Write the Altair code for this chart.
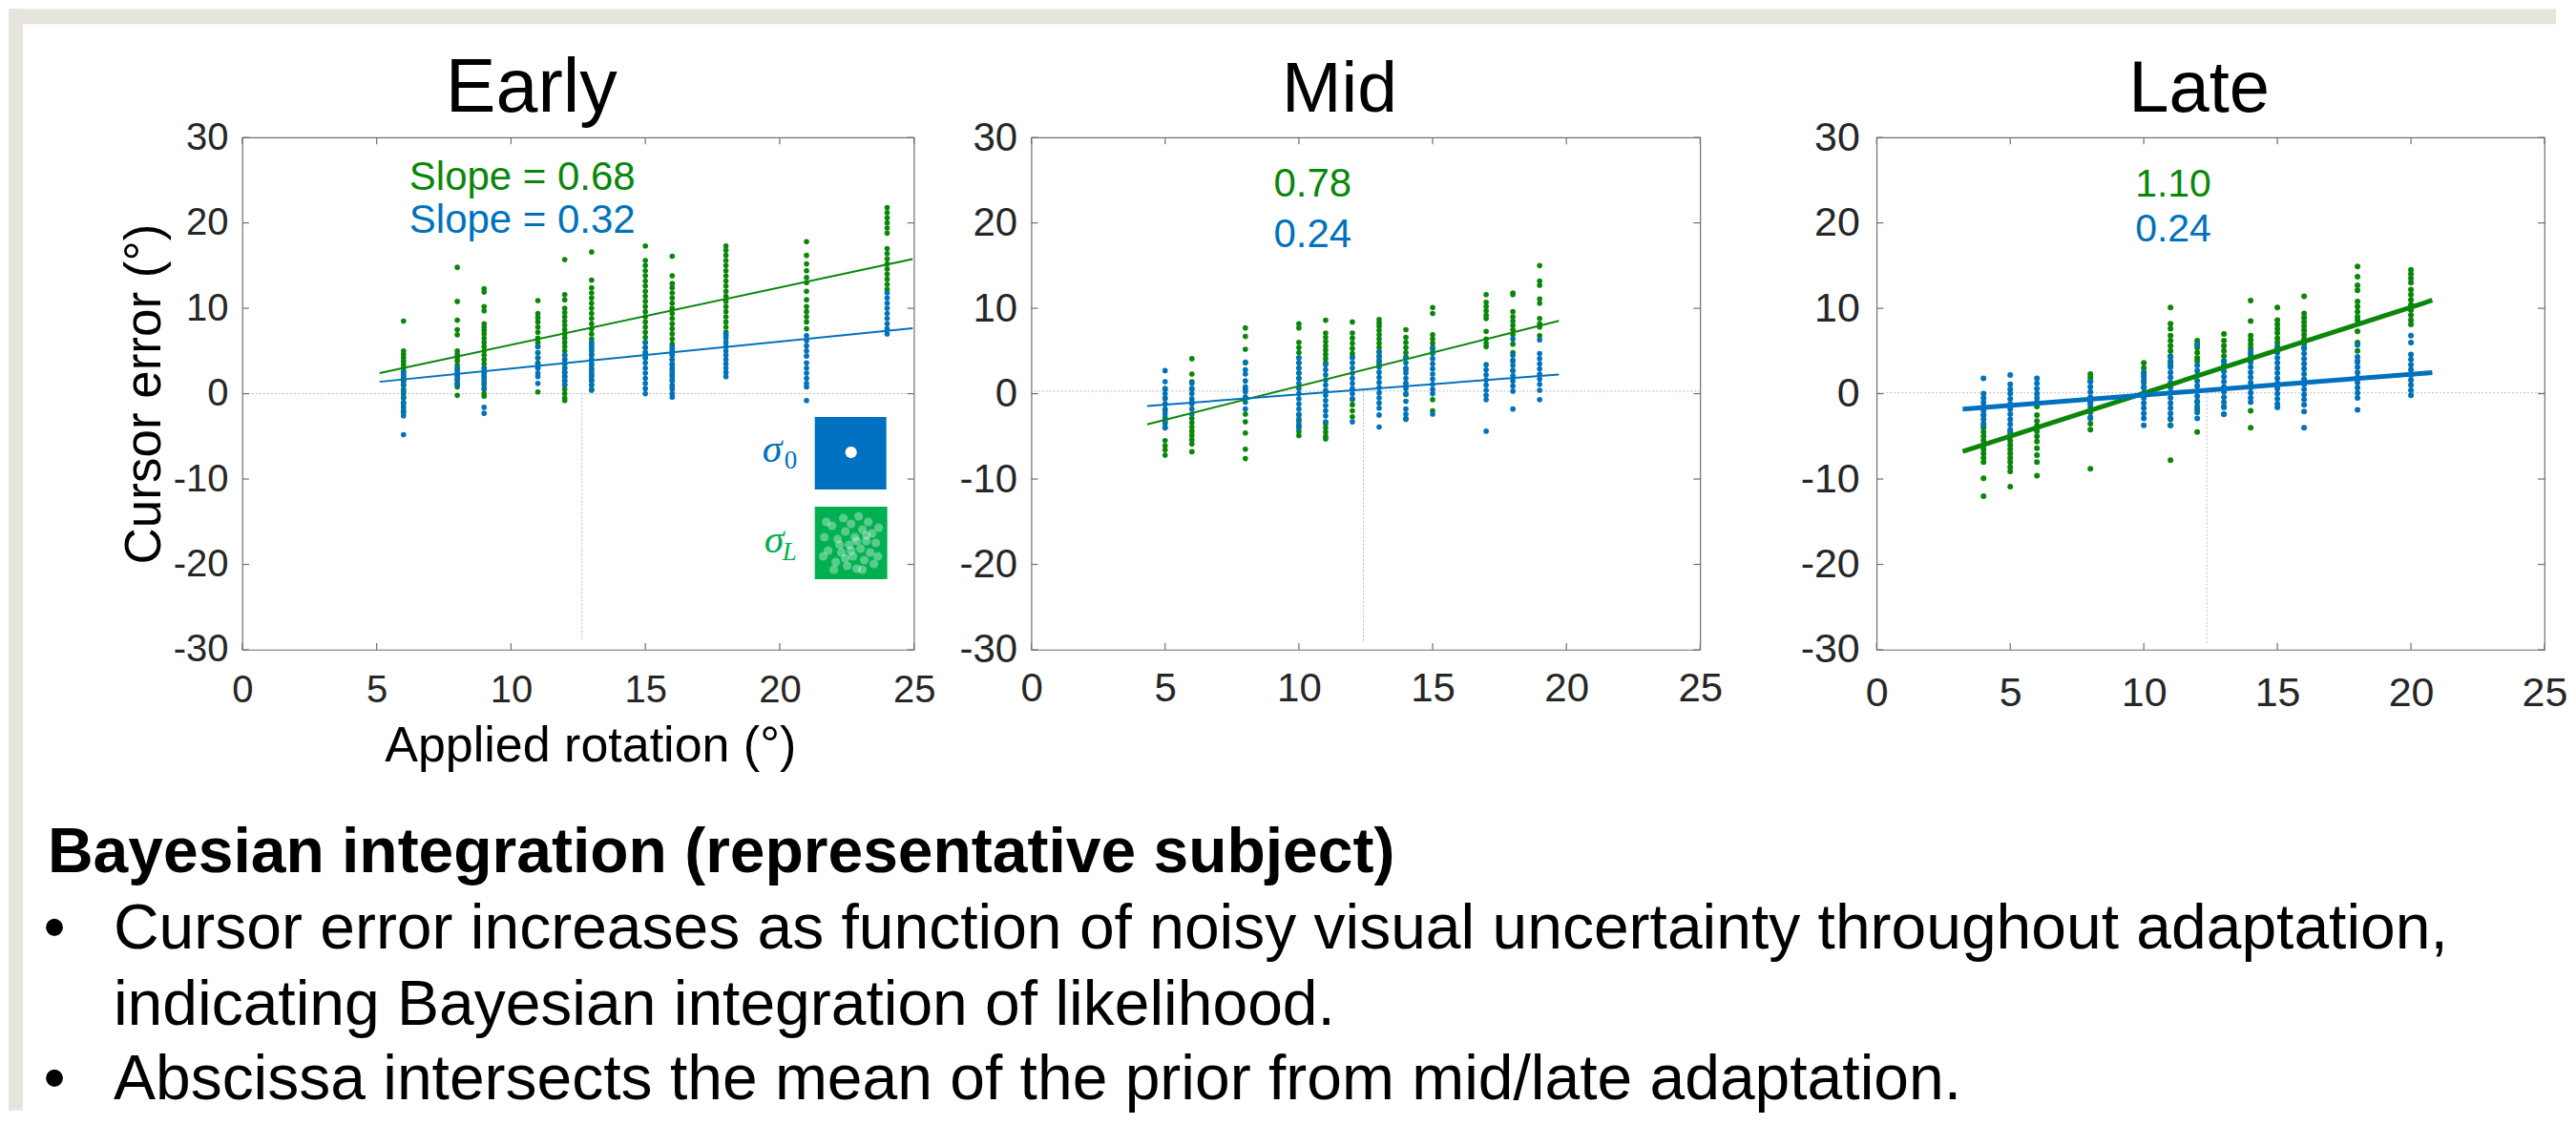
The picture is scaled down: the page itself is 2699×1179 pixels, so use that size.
import altair as alt
import pandas as pd

# ---------------- data ----------------
X_TICKS = [0, 5, 10, 15, 20, 25]
Y_TICKS = [-30, -20, -10, 0, 10, 20, 30]
PANEL_TITLES = ["Early", "Mid", "Late"]

EARLY_X = [6, 8, 9, 11, 12, 13, 15, 16, 18, 21, 24]
EARLY_GREEN = [
    [8.5, 5.0, 4.6, 4.2, 3.8, 3.4, 3.0, 2.6, 2.2, 1.8, 1.4, 1.0, 0.5, 0.0, -0.5, -1.2, -2.0],
    [14.8, 10.8, 8.6, 7.5, 6.9, 5.0, 4.6, 4.2, 3.8, 3.3, 2.8, 2.2, 1.7, 1.2, 0.8, -0.2],
    [12.3, 11.9, 10.2, 9.7, 8.2, 7.8, 7.4, 7.0, 6.5, 6.0, 5.5, 5.0, 4.5, 4.0, 3.5, 3.0, 2.5, 2.0, 1.5, 1.0, 0.5, 0.0, -0.3],
    [10.9, 9.4, 8.9, 8.4, 7.8, 7.2, 6.5, 6.0, 5.5, 4.8, 4.2, 3.6, 3.0, 0.2],
    [15.7, 11.6, 11.0, 10.0, 9.5, 9.0, 8.5, 8.0, 7.5, 7.0, 6.5, 6.0, 5.5, 5.0, 4.5, 4.0, 3.5, 3.0, 2.5, 2.0, 1.5, 1.0, 0.5, 0.0, -0.5, -0.8],
    [16.6, 13.3, 12.4, 11.8, 11.2, 10.6, 10.0, 9.4, 8.8, 8.2, 7.6, 7.0, 6.4, 5.8, 5.2, 4.6, 4.0, 3.4, 2.8, 2.2, 1.6, 1.0, 0.4],
    [17.3, 15.6, 15.0, 14.4, 13.8, 13.2, 12.6, 12.0, 11.4, 10.8, 10.2, 9.6, 9.0, 8.4, 7.8, 7.2, 6.6, 6.0, 5.4, 4.8, 4.2],
    [16.1, 13.8, 12.9, 12.4, 11.8, 11.2, 10.6, 10.0, 9.4, 8.8, 8.2, 7.6, 7.0, 6.4, 5.8, 5.2, 4.6, 4.0, 3.4, 2.8, 2.2, 1.6, 0.8],
    [17.3, 16.8, 16.2, 15.6, 15.0, 14.4, 13.8, 13.2, 12.6, 12.0, 11.4, 10.8, 10.2, 9.6, 9.0, 8.4, 7.8, 7.2, 6.8],
    [17.8, 16.2, 15.2, 14.4, 13.6, 13.0, 12.0, 11.0, 10.2, 9.6, 9.0, 8.4, 7.6],
    [21.8, 21.2, 20.6, 20.0, 19.4, 18.8, 17.0, 16.4, 15.8, 15.2, 14.6, 14.0, 13.4, 12.8, 12.2],
]
EARLY_BLUE = [
    [2.5, 2.0, 1.5, 1.0, 0.3, -0.4, -1.0, -1.6, -2.2, -2.6, -4.8],
    [3.0, 2.5, 2.0, 1.6, 1.1],
    [3.0, 2.6, 2.2, 1.8, 1.2, 0.6, -1.6, -2.3],
    [5.5, 4.8, 4.2, 3.5, 3.0, 2.4, 2.0, 1.2],
    [4.5, 4.0, 3.5, 3.0, 2.5, 2.0, 1.5, 1.0],
    [6.0, 5.5, 5.0, 4.5, 4.0, 3.5, 3.0, 2.5, 2.0, 1.5, 1.0, 0.5],
    [6.0, 5.4, 4.8, 4.2, 3.6, 3.0, 2.4, 1.8, 1.2, 0.6, 0.0],
    [5.5, 5.0, 4.5, 4.0, 3.5, 3.0, 2.5, 2.0, 1.5, 1.0, 0.5, 0.0, -0.4],
    [7.0, 6.5, 6.0, 5.5, 5.0, 4.5, 4.0, 3.5, 3.0, 2.5, 2.0],
    [6.8, 6.2, 5.6, 5.0, 4.4, 3.6, 3.0, 2.4, 1.8, 1.2, 0.8, -0.8],
    [11.8, 11.2, 10.6, 10.0, 9.4, 8.8, 8.2, 7.6, 7.0],
]

MID_X = [5, 6, 8, 10, 11, 12, 13, 14, 15, 17, 18, 19]
MID_GREEN = [
    [0.5, -0.5, -1.2, -2.0, -2.8, -3.3, -4.0, -5.5, -6.1, -6.6, -7.2],
    [4.1, 2.3, 1.4, 0.5, -1.0, -2.9, -3.4, -3.9, -4.4, -4.9, -5.4, -5.9, -6.8],
    [7.7, 6.7, 5.2, 3.6, 0.5, -0.5, -2.4, -3.3, -4.6, -6.5, -7.6],
    [8.2, 7.7, 6.0, 5.4, 4.8, 4.2, 3.6, 3.0, 2.4, 1.8, -2.5, -3.2, -3.8, -4.4, -4.9],
    [8.6, 7.1, 6.6, 6.1, 5.6, 5.1, 4.6, 4.1, 3.6, -3.5, -4.0, -4.5, -5.0, -5.3],
    [8.4, 7.1, 6.5, 5.9, 5.3, 4.7, 4.3, -0.7, -1.3, -2.0, -2.7],
    [8.7, 8.3, 7.9, 7.4, 6.9, 6.4, 5.9, 5.4, 4.9, 4.4, 3.9, 3.4],
    [7.5, 6.6, 6.0, 5.4, 4.8, 4.3, 2.8, 1.2, -0.1, -2.9],
    [10.1, 9.4, 6.9, 6.4, 5.9, 5.4, 4.9, -0.7, -2.0],
    [11.6, 10.7, 10.2, 9.7, 9.2, 8.8, 7.3, 6.4, 5.9, 5.5],
    [11.8, 11.6, 9.6, 9.0, 8.5, 8.0, 7.5, 6.9, 5.8, 4.8, 3.8, 2.7],
    [15.0, 13.2, 12.7, 11.1, 10.6, 8.8, 8.2, 7.8, 6.8],
]
MID_BLUE = [
    [2.7, 1.4, 0.6, 0.0, -0.6, -1.2, -1.8, -2.4, -3.0, -3.5, -4.0],
    [1.2, 0.6, 0.0, -0.6, -1.2, -1.8, -2.4],
    [3.7, 2.8, 2.3, 1.5, 0.8, 0.2, -0.4, -1.0, -1.8],
    [4.2, 3.6, 3.0, 2.4, 1.8, 1.2, 0.6, 0.0, -0.6, -1.2, -1.8, -2.4, -3.0, -3.6, -4.0],
    [3.4, 2.8, 2.2, 1.6, 1.0, 0.4, -0.2, -0.8, -1.4, -2.0, -2.6, -3.3],
    [4.2, 3.6, 3.0, 2.4, 1.8, 1.2, 0.6, 0.0, -0.6, -3.3],
    [4.9, 4.3, 3.7, 3.1, 2.5, 1.9, 1.3, 0.7, 0.1, -0.5, -1.1, -1.7, -2.5, -3.9],
    [4.2, 3.6, 3.0, 2.4, 1.8, 1.2, 0.6, 0.0, -0.9, -1.8, -2.4, -3.0],
    [5.3, 4.7, 4.1, 3.5, 2.9, 2.3, 1.7, 1.1, 0.5, 0.0, -2.4],
    [3.4, 2.8, 2.2, 1.6, 1.0, 0.4, -0.2, -0.7, -4.4],
    [6.4, 4.5, 3.9, 3.3, 2.7, 2.1, 1.5, 0.9, 0.3, -1.8],
    [6.3, 4.7, 4.1, 3.5, 2.9, 2.3, 1.7, 1.1, 0.4, -0.7],
]

LATE_X = [4, 5, 6, 8, 10, 11, 12, 13, 14, 15, 16, 18, 20]
LATE_GREEN = [
    [-2.5, -3.5, -4.0, -4.5, -5.0, -5.5, -6.0, -6.5, -7.0, -7.5, -8.0, -9.9, -12.0],
    [-4.5, -5.0, -5.5, -6.0, -6.5, -7.0, -7.5, -8.0, -8.6, -9.1, -10.9],
    [-1.5, -2.5, -3.2, -3.8, -4.4, -5.0, -5.6, -6.4, -7.2, -8.0, -9.6],
    [2.3, 1.9, 1.5, -1.2, -2.0, -2.8, -3.5, -4.2, -8.8],
    [3.6, 3.0, 2.2, 1.5, 0.8],
    [10.1, 8.2, 7.6, 6.8, 6.2, 5.6, 5.0, 4.4, 3.8, 3.3, -3.0, -3.7, -7.8],
    [6.2, 5.8, 5.4, 4.8, 4.2, 3.8, -1.0, -1.8, -4.5],
    [7.0, 6.2, 5.6, 5.0, 4.4, 3.8, 3.3, -1.5, -2.4],
    [10.9, 8.5, 6.8, 6.3, 5.8, 5.3, 4.6, -2.0, -4.0],
    [10.1, 8.6, 8.1, 7.6, 7.1, 6.5, 6.0, 5.5],
    [11.4, 9.4, 8.9, 8.4, 7.9, 7.4, 6.9, 6.4, 5.9, 5.4],
    [14.9, 13.7, 12.7, 12.1, 10.8, 10.2, 9.6, 9.0, 8.6, 7.3, 6.0, 5.0, 3.8],
    [14.5, 14.0, 13.5, 13.0, 12.2, 11.6, 11.0, 10.4, 9.8, 9.2, 8.6, 8.1],
]
LATE_BLUE = [
    [1.8, 0.0, -0.5, -1.0, -1.5, -2.0, -2.5, -3.0, -3.7],
    [2.2, 1.1, 0.5, 0.0, -0.6, -1.2, -1.8, -2.4, -3.0, -3.6, -4.2, -4.8],
    [1.8, 1.2, 0.6, 0.0, -0.5, -1.0],
    [1.4, 0.8, 0.2, -0.4, -1.0, -1.6, -2.2, -2.9],
    [2.5, 1.9, 1.3, 0.7, 0.1, -0.5, -1.1, -1.7, -2.3, -2.9, -3.7],
    [4.3, 3.7, 3.1, 2.5, 1.9, 1.3, 0.7, 0.1, -0.5, -1.1, -1.7, -2.3, -2.9, -3.7],
    [5.7, 3.3, 2.7, 2.1, 1.5, 0.9, 0.3, -0.3, -0.9, -1.5, -2.2, -2.9],
    [3.8, 3.2, 2.6, 2.0, 1.4, 0.8, 0.2, -0.4, -1.0, -1.6, -2.4],
    [4.9, 4.3, 3.7, 3.1, 2.5, 1.9, 1.3, 0.7, 0.1, -0.5, -1.0],
    [5.4, 4.8, 4.2, 3.6, 3.0, 2.4, 1.8, 1.2, 0.6, 0.0, -0.6, -1.2, -1.6],
    [5.9, 5.3, 4.7, 4.1, 3.5, 2.9, 2.3, 1.7, 1.1, 0.5, -0.1, -0.7, -1.3, -2.1, -4.0],
    [5.7, 4.3, 3.7, 3.1, 2.5, 1.9, 1.3, 0.7, 0.1, -0.5, -1.9],
    [6.8, 6.0, 4.6, 4.0, 3.4, 2.8, 2.2, 1.6, 1.0, 0.4, -0.2],
]

# fitted lines: end points (x, green y, blue y)
EARLY_FIT_X = [5.11, 24.95]
EARLY_FIT_GREEN = [2.42, 15.77]
EARLY_FIT_BLUE = [1.39, 7.67]
MID_FIT_X = [4.33, 19.72]
MID_FIT_GREEN = [-3.59, 8.53]
MID_FIT_BLUE = [-1.45, 2.25]
LATE_FIT_X = [3.22, 20.8]
LATE_FIT_GREEN = [-6.76, 10.94]
LATE_FIT_BLUE = [-1.82, 2.47]

# reference lines: zero line level, prior-mean x, lower end of vertical line
REF_ZERO = [0.0, 0.3, 0.1]
REF_PRIOR_X = [12.64, 12.41, 12.36]
REF_VLINE_BOTTOM = [-29.0, -29.0, -29.4]

SLOPE_GREEN_TEXT = ["Slope = 0.68", "0.78", "1.10"]
SLOPE_BLUE_TEXT = ["Slope = 0.32", "0.24", "0.24"]

HEADER = "Bayesian integration (representative subject)"
BULLET_1 = ["Cursor error increases as function of noisy visual uncertainty throughout adaptation,",
            "indicating Bayesian integration of likelihood."]
BULLET_2 = "Abscissa intersects the mean of the prior from mid/late adaptation."

# white blobs in the green "likelihood" icon (pixel offsets from icon centre)
ICON_DOTS_PX = [(-28, -6), (-24, 8), (-20, -18), (-16, 20), (-14, -4), (-10, 10), (-8, -26),
                (-6, -12), (-4, 24), (-2, 2), (0, -20), (2, 14), (4, -6), (6, 27), (8, -28),
                (10, 6), (12, -14), (14, 18), (16, -2), (18, -22), (20, 10), (22, -10),
                (24, 22), (26, 0), (29, -16), (-29, 14), (-18, 28), (12, 28), (28, 14),
                (-26, -22), (0, 8), (6, -2), (-12, 2), (16, -8), (-6, 16)]

# ---------------- styles ----------------
FONT = "Liberation Sans"
SERIF = "Liberation Serif"
GREEN = "#0A870A"
BLUE = "#0072BD"
ICON_BLUE = "#0070C0"
ICON_GREEN = "#00B050"
BEIGE = "#E7E4DE"
FRAME = "#707070"
LABEL = "#262626"
REF = "#BDBDBD"
H = 537
TICK = 7

XS = alt.Scale(domain=[0, 25], nice=False, zero=False)
YS = alt.Scale(domain=[-30, 30], nice=False, zero=False)
ONE = pd.DataFrame({"k": [0]})


def points_frame(xs, greens, blues):
    rows = []
    for x, ys in zip(xs, greens):
        rows += [{"x": x, "y": y, "s": "green"} for y in ys]
    for x, ys in zip(xs, blues):
        rows += [{"x": x, "y": y, "s": "blue"} for y in ys]
    return pd.DataFrame(rows)


def fit_frame(fx, fg, fb):
    return pd.DataFrame({"x": list(fx) + list(fx), "y": list(fg) + list(fb),
                         "s": ["green", "green", "blue", "blue"]})


def text_layer(s, x, y, size, color="black", font=FONT, weight="normal",
               style="normal", align="left", angle=0):
    return alt.Chart(ONE).mark_text(
        align=align, baseline="alphabetic", font=font, fontSize=size,
        fontWeight=weight, fontStyle=style, color=color, angle=angle
    ).encode(x=alt.value(x), y=alt.value(y), text=alt.value(s))


def rect_layer(x1, x2, y1, y2, color, opacity=1.0):
    return alt.Chart(ONE).mark_rect(color=color, opacity=opacity).encode(
        x=alt.value(x1), x2=alt.value(x2), y=alt.value(y1), y2=alt.value(y2))


def panel(i, w, xs, greens, blues, fx, fg, fb, fs, xpad, ypad, lw, dot,
          title_x, title_size, s_x, s_y1, s_y2, s_size, extra):
    xaxis = alt.Axis(values=X_TICKS, title=None, labelFontSize=fs,
                     labelPadding=xpad, tickSize=0, labelExpr="'' + datum.value")
    yaxis = alt.Axis(values=Y_TICKS, title=None, labelFontSize=fs,
                     labelPadding=ypad, tickSize=0, labelExpr="'' + datum.value")

    def X(f):
        return alt.X(f, type="quantitative", scale=XS, axis=xaxis)

    def Y(f):
        return alt.Y(f, type="quantitative", scale=YS, axis=yaxis)

    color = alt.Color("s:N", scale=alt.Scale(domain=["green", "blue"], range=[GREEN, BLUE]),
                      legend=None)
    layers = list(extra["back"])
    layers.append(alt.Chart(pd.DataFrame({"y": [REF_ZERO[i]]}))
                  .mark_rule(color=REF, strokeWidth=1, strokeDash=[2, 2])
                  .encode(y=Y("y")))
    layers.append(alt.Chart(pd.DataFrame({"x": [REF_PRIOR_X[i]], "y": [REF_ZERO[i]],
                                          "y2": [REF_VLINE_BOTTOM[i]]}))
                  .mark_rule(color=REF, strokeWidth=1, strokeDash=[2, 2])
                  .encode(x=X("x"), y=Y("y"), y2=alt.Y2("y2")))
    xt = pd.DataFrame({"t": X_TICKS})
    yt = pd.DataFrame({"t": Y_TICKS})
    layers.append(alt.Chart(xt).mark_rule(color=FRAME, strokeWidth=1.2)
                  .encode(x=X("t"), y=alt.value(H), y2=alt.value(H - TICK)))
    layers.append(alt.Chart(xt).mark_rule(color=FRAME, strokeWidth=1.2)
                  .encode(x=X("t"), y=alt.value(0), y2=alt.value(TICK)))
    layers.append(alt.Chart(yt).mark_rule(color=FRAME, strokeWidth=1.2)
                  .encode(y=Y("t"), x=alt.value(0), x2=alt.value(TICK)))
    layers.append(alt.Chart(yt).mark_rule(color=FRAME, strokeWidth=1.2)
                  .encode(y=Y("t"), x=alt.value(w), x2=alt.value(w - TICK)))
    layers.append(alt.Chart(points_frame(xs, greens, blues))
                  .mark_circle(size=dot, opacity=1)
                  .encode(x=X("x"), y=Y("y"), color=color))
    layers.append(alt.Chart(fit_frame(fx, fg, fb))
                  .mark_line(strokeWidth=lw)
                  .encode(x=X("x"), y=Y("y"), color=color, detail="s:N"))
    layers.append(text_layer(PANEL_TITLES[i], title_x, -27, title_size, align="center"))
    layers.append(text_layer(SLOPE_GREEN_TEXT[i], s_x, s_y1, s_size, color=GREEN))
    layers.append(text_layer(SLOPE_BLUE_TEXT[i], s_x, s_y2, s_size, color=BLUE))
    layers += extra["front"]
    return alt.layer(*layers).properties(width=w, height=H)


# ----- extras for the first panel: slide background, axis titles, icons, notes -----
PXU_X = 704 / 25.0
PXU_Y = H / 60.0
icon_cx, icon_cy = 638, 425
icon_df = pd.DataFrame({
    "x": [icon_cx / PXU_X + dx / PXU_X for dx, dy in ICON_DOTS_PX],
    "y": [30 - icon_cy / PXU_Y - dy / PXU_Y for dx, dy in ICON_DOTS_PX],
})

early_back = [
    rect_layer(-245, 2425, -135, -119, BEIGE),
    rect_layer(-245, -230, -135, 1020, BEIGE),
]
early_front = [
    text_layer("Cursor error (°)", -86, 269, 53, align="center", angle=270),
    text_layer("Applied rotation (°)", 365, 654, 52, align="center"),
    rect_layer(600, 675, 293, 369, ICON_BLUE),
    alt.Chart(ONE).mark_circle(color="white", opacity=1).encode(
        x=alt.value(638), y=alt.value(330), size=alt.value(150)),
    rect_layer(600, 676, 387, 463, ICON_GREEN),
    alt.Chart(icon_df).mark_circle(color="white", opacity=0.35, size=85).encode(
        x=alt.X("x:Q", scale=XS), y=alt.Y("y:Q", scale=YS)),
    text_layer("σ", 545, 340, 42, color=ICON_BLUE, font=SERIF, style="italic"),
    text_layer("0", 568, 347, 27, color=ICON_BLUE, font=SERIF),
    text_layer("σ", 547, 435, 42, color=ICON_GREEN, font=SERIF, style="italic"),
    text_layer("L", 566, 443, 27, color=ICON_GREEN, font=SERIF, style="italic"),
    text_layer(HEADER, -204, 770, 66, weight="bold"),
    text_layer("•", -197, 850, 66, align="center"),
    text_layer(BULLET_1[0], -135, 850, 66),
    text_layer(BULLET_1[1], -135, 930, 66),
    text_layer("•", -197, 1008, 66, align="center"),
    text_layer(BULLET_2, -135, 1008, 66),
]

early = panel(0, 704, EARLY_X, EARLY_GREEN, EARLY_BLUE,
              EARLY_FIT_X, EARLY_FIT_GREEN, EARLY_FIT_BLUE,
              fs=40, xpad=23, ypad=15, lw=2, dot=32,
              title_x=303, title_size=79, s_x=175, s_y1=55, s_y2=100, s_size=42,
              extra={"back": early_back, "front": early_front})
mid = panel(1, 701, MID_X, MID_GREEN, MID_BLUE,
            MID_FIT_X, MID_FIT_GREEN, MID_FIT_BLUE,
            fs=42, xpad=21, ypad=15, lw=2, dot=32,
            title_x=323, title_size=75, s_x=254, s_y1=62, s_y2=115, s_size=42,
            extra={"back": [], "front": []})
late = panel(2, 700, LATE_X, LATE_GREEN, LATE_BLUE,
             LATE_FIT_X, LATE_FIT_GREEN, LATE_FIT_BLUE,
             fs=43, xpad=25, ypad=18, lw=5, dot=36,
             title_x=338, title_size=76, s_x=271, s_y1=62, s_y2=109, s_size=41,
             extra={"back": [], "front": []})


def spacer(w):
    return alt.Chart(ONE).mark_point(opacity=0).encode(
        x=alt.value(0), y=alt.value(0)
    ).properties(width=w, height=H, view=alt.ViewBackground(stroke="transparent"))


chart = alt.hconcat(early, spacer(123), mid, spacer(185), late,
                    spacing=0, bounds="flush").properties(
    padding=0, background="white"
).configure_view(
    stroke=FRAME, strokeWidth=1.2
).configure_axis(
    domain=False, ticks=False, grid=False, labelFont=FONT, labelColor=LABEL,
    labelFlush=False, labelOverlap=False
)

chart.save("out.html", embed_options={"renderer": "svg", "actions": False})
